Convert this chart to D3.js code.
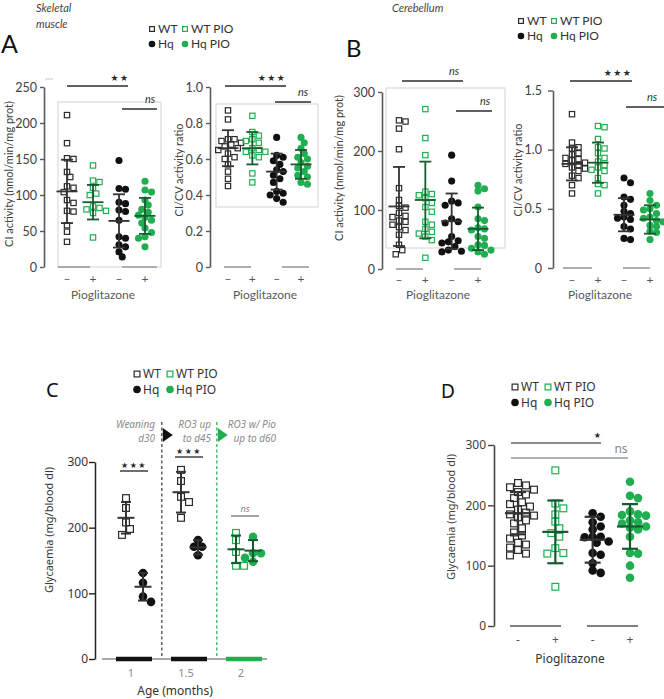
<!DOCTYPE html>
<html>
<head>
<meta charset="utf-8">
<script src="https://cdn.jsdelivr.net/npm/d3@7"></script>
<style>
  body { margin: 0; background: #fff; }
  svg { display: block; font-family: Lato, "Liberation Sans", sans-serif; }
</style>
</head>
<body>
<svg id="fig" width="664" height="699"></svg>
<script>
// ---- data ----
const groups = ["WT", "WT PIO", "Hq", "Hq PIO"];
const pioSigns = ["\u2013", "+", "\u2013", "+"];

// A: skeletal muscle
const muscleCI = [
  [211, 172, 151, 150, 132, 125, 112, 110, 104, 93, 89, 78, 77, 58, 49, 35],
  [141, 120, 118, 110, 102, 100, 84, 82, 80, 78, 75, 41],
  [148, 109, 108, 90, 88, 79, 77, 65, 42, 40, 31, 28, 21, 14],
  [119, 107, 104, 93, 86, 80, 76, 72, 69, 65, 61, 54, 48, 42, 40, 28]
];
const muscleCIMean = [105, 90, 64, 71];
const muscleCISd = [44, 24, 37, 25];
const muscleCITicks = [0, 50, 100, 150, 200, 250];

const muscleRatio = [
  [0.87, 0.82, 0.71, 0.71, 0.70, 0.69, 0.68, 0.67, 0.66, 0.65, 0.63, 0.61, 0.60, 0.57, 0.53, 0.49, 0.45],
  [0.84, 0.75, 0.73, 0.71, 0.70, 0.69, 0.66, 0.65, 0.64, 0.64, 0.62, 0.61, 0.52, 0.47],
  [0.72, 0.62, 0.61, 0.59, 0.57, 0.54, 0.53, 0.51, 0.49, 0.47, 0.42, 0.41, 0.40, 0.38, 0.36],
  [0.72, 0.69, 0.66, 0.63, 0.61, 0.60, 0.58, 0.56, 0.55, 0.53, 0.51, 0.50, 0.47, 0.46]
];
const muscleRatioMean = [0.66, 0.66, 0.53, 0.57];
const muscleRatioSd = [0.10, 0.09, 0.10, 0.08];
const muscleRatioTicks = [0, 0.2, 0.4, 0.6, 0.8, 1.0];

// B: cerebellum
const cerebCI = [
  [252, 250, 238, 203, 137, 117, 107, 104, 95, 90, 88, 82, 80, 75, 71, 66, 58, 41, 32, 25],
  [271, 222, 193, 131, 127, 125, 120, 112, 105, 97, 80, 75, 68, 63, 60, 55, 49, 19],
  [193, 149, 115, 112, 108, 85, 80, 78, 55, 48, 46, 44, 38, 32, 30, 29],
  [142, 136, 132, 105, 85, 82, 70, 68, 66, 55, 52, 41, 40, 35, 32, 29, 25]
];
const cerebCIMean = [106, 117, 81, 68];
const cerebCISd = [67, 65, 47, 36];
const cerebCITicks = [0, 100, 200, 300];

const cerebRatio = [
  [1.30, 1.06, 1.02, 1.01, 0.97, 0.96, 0.93, 0.92, 0.91, 0.89, 0.88, 0.87, 0.85, 0.84, 0.82, 0.78, 0.76, 0.70, 0.63],
  [1.20, 1.19, 1.09, 1.02, 1.01, 0.97, 0.93, 0.90, 0.87, 0.85, 0.83, 0.82, 0.76, 0.71, 0.70, 0.63],
  [0.76, 0.72, 0.60, 0.58, 0.53, 0.48, 0.46, 0.43, 0.42, 0.41, 0.35, 0.33, 0.25, 0.24],
  [0.63, 0.57, 0.53, 0.50, 0.49, 0.46, 0.43, 0.42, 0.40, 0.39, 0.36, 0.35, 0.31, 0.30, 0.24]
];
const cerebRatioMean = [0.88, 0.89, 0.45, 0.41];
const cerebRatioSd = [0.14, 0.17, 0.14, 0.12];
const cerebRatioTicks = [0, 0.5, 1.0, 1.5];

// C: glycaemia vs age
const ageMonths = [1, 1, 1.5, 1.5, 2, 2];
const ageGroups = ["WT", "Hq", "WT", "Hq", "WT PIO", "Hq PIO"];
const ageGlyc = [
  [245, 230, 208, 198, 189],
  [131, 116, 95, 87],
  [288, 271, 247, 239, 215],
  [181, 171, 171, 158],
  [192, 181, 163, 142, 142],
  [186, 161, 161, 154, 148]
];
const ageGlycMean = [215, 110, 254, 170, 167, 165];
const ageGlycSd = [24, 21, 31, 11, 21, 16];
const ageTicks = [1, 1.5, 2];
const glycTicks = [0, 100, 200, 300];

// D: glycaemia with pioglitazone
const pioGlyc = [
  [237, 233, 230, 226, 222, 218, 212, 205, 202, 198, 193, 188, 185, 183, 180, 175, 170, 162, 155, 150, 145, 138, 135, 130, 126, 120, 117],
  [258, 203, 195, 185, 173, 162, 154, 148, 129, 121, 120, 65],
  [187, 181, 172, 165, 160, 148, 148, 147, 140, 138, 121, 118, 104, 92, 88],
  [239, 216, 212, 190, 185, 184, 183, 175, 172, 170, 165, 163, 160, 148, 121, 120, 100, 80]
];
const pioGlycMean = [187, 156, 143, 165];
const pioGlycSd = [35, 52, 38, 37];

// ---- styling ----
const GREEN = "#1fae50";
const GREEN_BAR = "#175a2e";
const DARK = "#2b2b2b";
const AXIS = "#595959";
const svg = d3.select("#fig");

const isPio = g => g.indexOf("PIO") >= 0;
const isHq = g => g.indexOf("Hq") === 0;

// simple deterministic swarm so markers do not sit on top of each other
function swarm(vals, y, cx, d) {
  const placed = [];
  vals.slice().sort((a, b) => b - a).forEach(v => {
    const py = y(v);
    let px = cx;
    for (let i = 0; i < 40; i++) {
      const tx = cx + (i % 2 ? 1 : -1) * Math.ceil(i / 2) * d * 0.5;
      if (placed.every(p => (p.x - tx) ** 2 + (p.y - py) ** 2 >= d * d * 0.8)) { px = tx; break; }
    }
    placed.push({ x: px, y: py, v: v });
  });
  return placed;
}

function drawMarkers(g, pts, group, size) {
  if (isHq(group)) {
    g.selectAll(null).data(pts).enter().append("circle")
      .attr("cx", d => d.x).attr("cy", d => d.y).attr("r", size / 2 + 0.3)
      .attr("fill", isPio(group) ? GREEN : "#111");
  } else {
    g.selectAll(null).data(pts).enter().append("rect")
      .attr("x", d => d.x - size / 2 + 0.6).attr("y", d => d.y - size / 2 + 0.6)
      .attr("width", size - 1.2).attr("height", size - 1.2)
      .attr("fill", "none").attr("stroke", isPio(group) ? GREEN : DARK).attr("stroke-width", 1.2);
  }
}

function errorBar(g, cx, y, mean, sd, group, meanW, capW, sw) {
  const col = isPio(group) ? GREEN_BAR : "#333";
  const b = g.append("g").attr("stroke", col).attr("stroke-width", sw).attr("fill", "none");
  b.append("line").attr("x1", cx).attr("x2", cx).attr("y1", y(mean + sd)).attr("y2", y(mean - sd));
  b.append("line").attr("x1", cx - meanW / 2).attr("x2", cx + meanW / 2).attr("y1", y(mean)).attr("y2", y(mean));
  [mean + sd, mean - sd].forEach(v => {
    b.append("line").attr("x1", cx - capW / 2).attr("x2", cx + capW / 2).attr("y1", y(v)).attr("y2", y(v));
  });
}

function sigLine(x1, x2, y, color, width) {
  svg.append("line").attr("x1", x1).attr("x2", x2).attr("y1", y).attr("y2", y)
    .attr("stroke", color || DARK).attr("stroke-width", width || 1.4);
}

function label(x, y, txt, opts) {
  opts = opts || {};
  return svg.append("text").attr("x", x).attr("y", y).text(txt)
    .attr("text-anchor", opts.anchor || "middle")
    .attr("font-size", opts.size || 11)
    .attr("font-style", opts.italic ? "italic" : null)
    .attr("font-weight", opts.weight || null)
    .attr("font-family", opts.font || null)
    .attr("letter-spacing", opts.ls || null)
    .attr("fill", opts.fill || DARK);
}

function stars(x, y, n, size) {
  return label(x, y, "\u2605".repeat(n), { size: size || 8, ls: 1.5, font: "DejaVu Sans" });
}

function legend(x, y, size, font, fs) {
  const rows = [["WT", "WT PIO"], ["Hq", "Hq PIO"]];
  const dy = size === 6 ? 15 : 15.5;
  rows.forEach((row, r) => {
    row.forEach((grp, c) => {
      const mx = x + c * 33, my = y + r * dy;
      drawMarkers(svg.append("g"), [{ x: mx, y: my }], grp, size);
      label(mx + 6, my + fs * 0.36, grp, { anchor: "start", size: fs, font: font, fill: "#333" });
    });
  });
}

function yTitle(x, y, txt, size, font, fill) {
  svg.append("text").attr("transform", `translate(${x},${y}) rotate(-90)`)
    .attr("text-anchor", "middle").attr("dominant-baseline", "central")
    .attr("font-size", size).attr("font-family", font || null)
    .attr("fill", fill || "#404040").text(txt);
}

// generic dot plot used by panels A, B and D
function dotPanel(c) {
  const y = d3.scaleLinear().domain(c.domain).range(c.yRange);
  const x = d3.scalePoint().domain(groups).range(c.xRange);
  const g = svg.append("g");

  if (c.box) {
    g.append("rect").attr("x", c.box[0]).attr("y", c.box[1])
      .attr("width", c.box[2] - c.box[0]).attr("height", c.box[3] - c.box[1])
      .attr("fill", "none").attr("stroke", "#d4d4d4").attr("stroke-width", 1);
  }

  const axis = d3.axisLeft(y).tickValues(c.ticks).tickFormat(c.fmt)
    .tickSize(c.tickSize).tickSizeOuter(0).tickPadding(c.tickPad);
  const ag = g.append("g").attr("transform", `translate(${c.axisX},0)`).call(axis);
  ag.select(".domain").attr("stroke", c.axisColor || AXIS).attr("stroke-width", 1.6);
  ag.selectAll(".tick line").attr("stroke", c.axisColor || AXIS).attr("stroke-width", 1.4);
  ag.selectAll(".tick text").attr("font-size", c.tickFont).attr("fill", "#404040")
    .attr("font-family", c.font || "Lato");

  // group underline bars at zero
  c.baseLines.forEach(b => {
    g.append("line").attr("x1", b[0]).attr("x2", b[1]).attr("y1", y(0)).attr("y2", y(0))
      .attr("stroke", c.baseColor || "#9a9a9a").attr("stroke-width", 1.6);
  });

  groups.forEach((grp, i) => {
    const pts = swarm(c.values[i], y, x(grp), c.size);
    drawMarkers(g.append("g"), pts, grp, c.size);
  });
  groups.forEach((grp, i) => {
    errorBar(g, x(grp), y, c.means[i], c.sds[i], grp, c.meanW, c.capW, c.barW);
  });

  groups.forEach((grp, i) => {
    label(x(grp), c.signY, pioSigns[i] === "\u2013" && c.hyphen ? "-" : pioSigns[i],
      { size: c.signFont, fill: "#555", font: c.font });
  });
  label(c.pioX, c.pioY, "Pioglitazone", { size: c.pioFont, fill: c.pioFill || "#595959", font: c.font });
  yTitle(c.titleX, c.titleY, c.title, c.titleFont, c.font);
}

// ---- headers ----
label(36, 12, "Skeletal", { anchor: "start", italic: true, size: 11, fill: "#444" });
label(36, 28, "muscle", { anchor: "start", italic: true, size: 11, fill: "#444" });
label(392, 12, "Cerebellum", { anchor: "start", italic: true, size: 11, fill: "#444" });
label(1, 53, "A", { anchor: "start", size: 25, fill: "#111" });
label(346, 57, "B", { anchor: "start", size: 24, fill: "#111" });
label(46, 397, "C", { anchor: "start", size: 20, fill: "#111", font: "Noto Sans" });
label(441, 398, "D", { anchor: "start", size: 19, fill: "#111", font: "Noto Sans" });

legend(152, 29, 6, "Lato", 12);
legend(521, 21, 6, "Lato", 12);
legend(137, 374, 7, "Noto Sans", 12);
legend(515, 387, 7, "Noto Sans", 12);

// ---- panel A ----
const abCommon = { tickSize: 4, tickPad: 3, tickFont: 12.5, size: 6.5, meanW: 21, capW: 12, barW: 1.8,
  signFont: 12, pioFont: 12, titleFont: 11 };

dotPanel(Object.assign({}, abCommon, {
  domain: [0, 250], yRange: [267, 87], xRange: [67, 145], axisX: 44,
  ticks: muscleCITicks, fmt: d3.format("d"), box: [58, 102, 161, 267],
  values: muscleCI, means: muscleCIMean, sds: muscleCISd,
  baseLines: [[58, 90], [122, 157]], signY: 283, pioX: 103, pioY: 299,
  title: "CI activity (nmol/min/mg prot)", titleX: 8, titleY: 174
}));
dotPanel(Object.assign({}, abCommon, {
  domain: [0, 1], yRange: [267, 87], xRange: [228, 301], axisX: 210,
  ticks: muscleRatioTicks, fmt: d => d === 0 ? "0" : d3.format(".1f")(d), box: [216, 104, 318, 207],
  values: muscleRatio, means: muscleRatioMean, sds: muscleRatioSd,
  baseLines: [[224, 251], [282, 309]], signY: 283, pioX: 265, pioY: 299,
  title: "CI/CV activity ratio", titleX: 178, titleY: 170
}));
svg.append("line").attr("x1", 45).attr("x2", 53).attr("y1", 79).attr("y2", 79)
  .attr("stroke", "#d0d0d0").attr("stroke-width", 1.2);
sigLine(67, 128, 86); stars(120, 81, 2, 9);
sigLine(122, 157, 109); label(150, 103, "ns", { italic: true, size: 11, fill: "#333" });
sigLine(225, 286, 86); stars(272, 81, 3, 9);
sigLine(275, 311, 102); label(303, 96, "ns", { italic: true, size: 11, fill: "#333" });

// ---- panel B ----
dotPanel(Object.assign({}, abCommon, {
  domain: [0, 300], yRange: [269, 92], xRange: [399, 478], axisX: 382,
  ticks: cerebCITicks, fmt: d3.format("d"), box: [386, 88, 505, 248],
  values: cerebCI, means: cerebCIMean, sds: cerebCISd,
  baseLines: [[396, 423], [454, 481]], signY: 284, pioX: 438, pioY: 299,
  title: "CI activity (nmol/min/mg prot)", titleX: 338, titleY: 168
}));
dotPanel(Object.assign({}, abCommon, {
  domain: [0, 1.5], yRange: [268, 90.5], xRange: [572, 650], axisX: 553, tickSize: 5, tickPad: 6,
  ticks: cerebRatioTicks, fmt: d => d === 0 ? "0" : d3.format(".1f")(d),
  values: cerebRatio, means: cerebRatioMean, sds: cerebRatioSd,
  baseLines: [[563, 592], [623, 650]], signY: 284, pioX: 600, pioY: 299,
  title: "CI/CV activity ratio", titleX: 517, titleY: 170
}));
sigLine(402, 463, 81); label(454, 75, "ns", { italic: true, size: 11, fill: "#333" });
sigLine(456, 492, 111); label(485, 105, "ns", { italic: true, size: 11, fill: "#333" });
sigLine(570, 632, 81); stars(618, 76, 3, 9);
sigLine(626, 664, 107); label(652, 101, "ns", { italic: true, size: 11, fill: "#333" });

// ---- panel C ----
(function () {
  const y = d3.scaleLinear().domain([0, 300]).range([659, 462]);
  const x = d3.scaleLinear().domain([1, 2]).range([131, 241]);
  const g = svg.append("g").attr("font-family", "Noto Sans");

  // phase dividers
  [[x(1.28), "#555"], [x(1.78), "#3dbb66"]].forEach(d => {
    g.append("line").attr("x1", d[0]).attr("x2", d[0]).attr("y1", 422).attr("y2", 659)
      .attr("stroke", d[1]).attr("stroke-width", 1.4).attr("stroke-dasharray", "3,2.5");
    g.append("path").attr("d", `M${d[0] + 1},428L${d[0] + 1},442L${d[0] + 11},435Z`)
      .attr("fill", d[1] === "#555" ? "#111" : GREEN);
  });
  const note = { anchor: "end", italic: true, size: 10, fill: "#8a8a8a", font: "Noto Sans" };
  label(155, 428, "Weaning", note); label(155, 442, "d30", note);
  label(211, 428, "RO3 up", note); label(211, 442, "to d45", note);
  label(276, 428, "RO3 w/ Pio", note); label(276, 442, "up to d60", note);

  // x axis with treatment bars
  g.append("line").attr("x1", 102).attr("x2", 267).attr("y1", y(0)).attr("y2", y(0))
    .attr("stroke", "#8c8c8c").attr("stroke-width", 1.5);
  ageTicks.forEach((t, i) => {
    g.append("line").attr("x1", x(t) - 15).attr("x2", x(t) + 21).attr("y1", y(0)).attr("y2", y(0))
      .attr("stroke", i < 2 ? "#111" : GREEN).attr("stroke-width", 4.5);
    label(x(t), 677, String(t), { size: 11, fill: "#8a8a8a", font: "Noto Sans" });
  });

  const axis = d3.axisLeft(y).tickValues(glycTicks).tickSize(6).tickSizeOuter(0).tickPadding(1);
  const ag = g.append("g").attr("transform", "translate(95,0)").call(axis);
  ag.select(".domain").attr("stroke", "#222").attr("stroke-width", 1.5);
  ag.selectAll(".tick line").attr("stroke", "#222").attr("stroke-width", 1.4);
  ag.selectAll(".tick text").attr("font-size", 12).attr("fill", "#333").attr("font-family", "Noto Sans");

  ageGroups.forEach((grp, i) => {
    const cx = x(ageMonths[i]) + (isHq(grp) ? 12 : -5);
    drawMarkers(g.append("g"), swarm(ageGlyc[i], y, cx, 8), grp, 8);
  });
  ageGroups.forEach((grp, i) => {
    const cx = x(ageMonths[i]) + (isHq(grp) ? 12 : -5);
    errorBar(g, cx, y, ageGlycMean[i], ageGlycSd[i], grp, 17, 10, 2);
  });

  sigLine(120, 148, 471, "#333"); stars(134, 468, 3, 8);
  sigLine(175, 203, 457, "#333"); stars(189, 454, 3, 8);
  sigLine(231, 259, 516, "#666", 1.2); label(245, 512, "ns", { italic: true, size: 9, fill: "#888", font: "Noto Sans" });

  yTitle(48, 530, "Glycaemia (mg/blood dl)", 11, "Noto Sans", "#333");
  label(175, 695, "Age (months)", { size: 12, fill: "#333", font: "Noto Sans" });
})();

// ---- panel D ----
dotPanel({
  domain: [0, 300], yRange: [626, 445], xRange: [518, 630], axisX: 494,
  tickSize: 6, tickPad: 2, tickFont: 12, font: "Noto Sans", axisColor: "#444",
  ticks: glycTicks, fmt: d3.format("d"),
  values: pioGlyc, means: pioGlycMean, sds: pioGlycSd,
  size: 8, meanW: 26, capW: 16, barW: 2.2,
  baseLines: [[510, 561], [587, 638]], baseColor: "#555", hyphen: true,
  signY: 644, signFont: 12, pioX: 570, pioY: 663, pioFont: 12, pioFill: "#333",
  title: "Glycaemia (mg/blood dl)", titleX: 450, titleY: 517, titleFont: 11
});
sigLine(511, 601, 443, "#666", 1.3); stars(598, 438, 1, 8);
sigLine(511, 628, 458, "#999", 1.3); label(621, 453, "ns", { size: 12, fill: "#888", font: "Noto Sans" });
</script>
</body>
</html>
